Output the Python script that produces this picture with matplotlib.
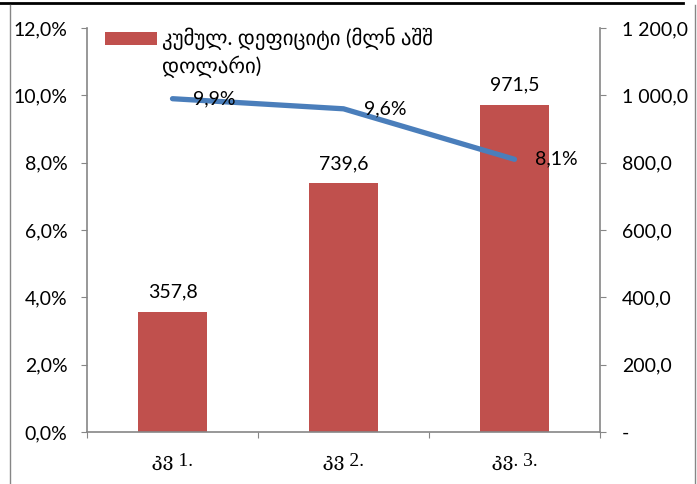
import matplotlib
matplotlib.use("Agg")
import matplotlib.pyplot as plt
from matplotlib.ticker import FuncFormatter
from matplotlib.lines import Line2D

categories = ["კვ 1.", "კვ 2.", "კვ. 3."]
deficit = [357.8, 739.6, 971.5]          # მლნ აშშ დოლარი (right axis)
share = [9.9, 9.6, 8.1]                   # % (left axis)
bar_label = ["კუმულ. დეფიციტი (მლნ აშშ", "დოლარი)"]

SANS = ["Lato", "DejaVu Sans"]
SERIF = ["Liberation Serif", "DejaVu Serif", "DejaVu Sans"]
GREY = "#868686"
plt.rcParams.update({"font.family": SANS, "font.size": 14})

fig = plt.figure(figsize=(6.97, 4.84), dpi=100)
ax = fig.add_axes([87/697, 1 - 432/484, (600 - 87)/697, (432 - 28)/484])
ax2 = ax.twinx()
ax.set_zorder(ax2.get_zorder() + 1)
ax.patch.set_visible(False)

x = list(range(len(categories)))

# bars on the right axis
bars = ax2.bar(x, deficit, width=0.4, color="#c0504d")
for xi, v in zip(x, deficit):
    ax2.annotate(f"{v:.1f}".replace(".", ","), (xi, v), xytext=(0, 8),
                 textcoords="offset points", ha="center", va="bottom", fontsize=14)
ax2.set_ylim(0, 1200)
ax2.set_yticks(range(0, 1201, 200))

def rfmt(v, _):
    if v == 0:
        return "-"
    return f"{v:,.1f}".replace(",", " ").replace(".", ",")
ax2.yaxis.set_major_formatter(FuncFormatter(rfmt))

# line on the left axis
ax.plot(x, share, color="#4a7ebb", lw=3.8, solid_capstyle="round")
for xi, v in zip(x, share):
    ax.annotate(f"{v:.1f}%".replace(".", ","), (xi, v), xytext=(15, 0),
                textcoords="offset points", ha="left", va="center", fontsize=14)
ax.set_ylim(0, 12)
ax.set_yticks(range(0, 13, 2))
ax.yaxis.set_major_formatter(FuncFormatter(lambda v, _: f"{v:.1f}%".replace(".", ",")))

ax.set_xlim(-0.5, len(categories) - 0.5)
ax.set_xticks([i - 0.5 for i in range(len(categories) + 1)])
ax.set_xticklabels([])
ax.set_xticks(x, minor=True)
ax.set_xticklabels(categories, minor=True, family=SERIF, fontsize=14)
ax.tick_params(axis="x", which="minor", length=0, pad=15)
ax.tick_params(axis="x", which="major", length=4, color=GREY)
ax.tick_params(axis="y", length=4, color=GREY, pad=10)
ax2.tick_params(axis="y", length=4, color=GREY, pad=12)

for a in (ax, ax2):
    for s in a.spines.values():
        s.set_visible(False)
ax.spines["left"].set_visible(True)
ax.spines["bottom"].set_visible(True)
ax2.spines["right"].set_visible(True)
for s in (ax.spines["left"], ax.spines["bottom"], ax2.spines["right"]):
    s.set_color(GREY)
    s.set_linewidth(1.2)

leg = ax.legend([bars], [bar_label[0]], loc="upper left",
                bbox_to_anchor=(105/697, 1 - 28/484), bbox_transform=fig.transFigure,
                frameon=False, borderpad=0, borderaxespad=0, handlelength=2.5,
                handleheight=0.6, handletextpad=0.25, fontsize=15)
fig.text(162/697, 1 - 67/484, bar_label[1], fontsize=15, va="center", ha="left")

# outer frame
fig.add_artist(Line2D([0, 683/697], [1 - 3/484] * 2, color="black", lw=2,
                      transform=fig.transFigure))
fig.add_artist(Line2D([10/697] * 2, [0, 1 - 5/484], color=GREY, lw=1,
                      transform=fig.transFigure))
fig.add_artist(Line2D([695/697] * 2, [0, 1 - 5/484], color=GREY, lw=1,
                      transform=fig.transFigure))

fig.savefig("out.png", dpi=100)
